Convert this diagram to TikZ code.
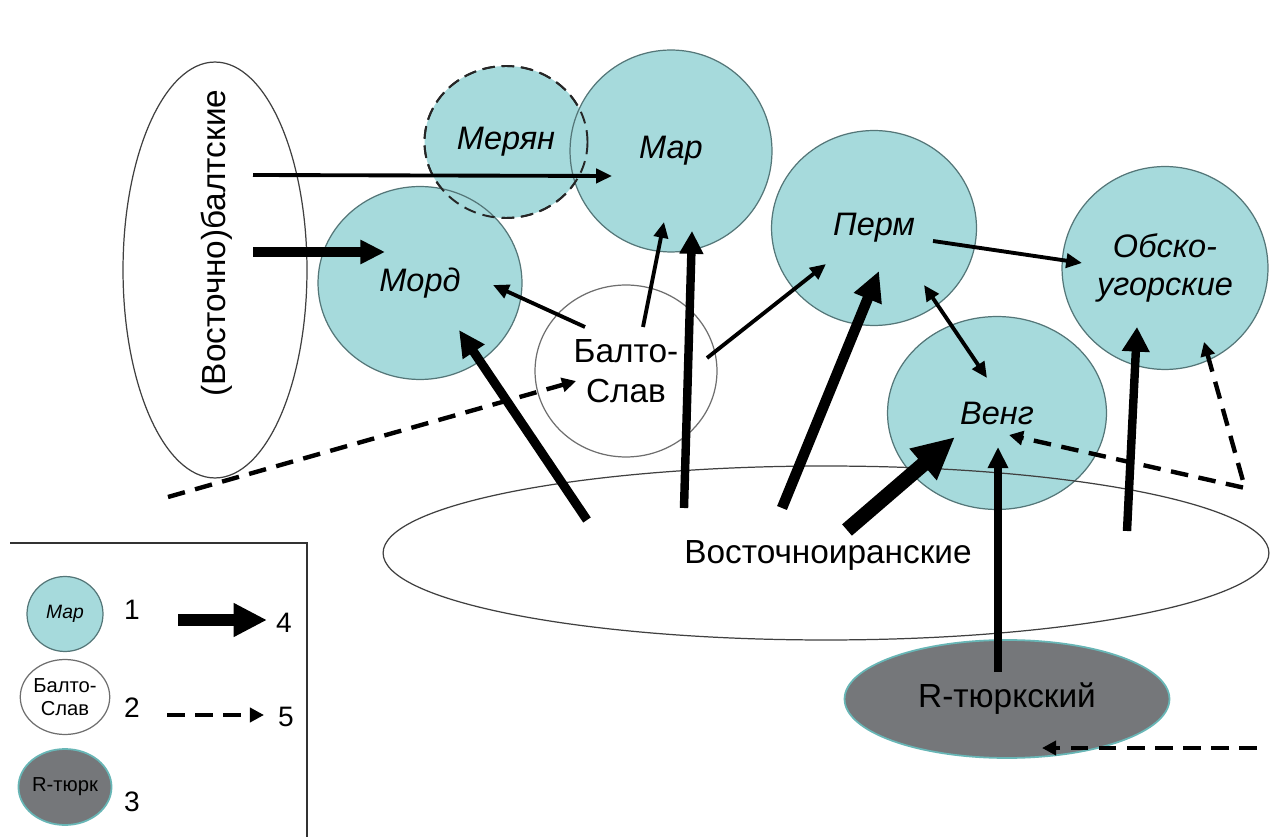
\documentclass[tikz,border=0pt]{standalone}
\usepackage{fontspec}
\setmainfont{Liberation Sans}
\usetikzlibrary{arrows.meta,shapes.geometric}
\definecolor{teal1}{RGB}{166,218,220}
\definecolor{tealb}{RGB}{84,118,120}
\definecolor{rgray}{RGB}{117,119,122}
\definecolor{rbord}{RGB}{104,182,182}
\definecolor{lgray}{RGB}{110,110,110}
\begin{document}
\begin{tikzpicture}[x=0.02cm,y=-0.02cm,
  lang/.style={ellipse, fill=teal1, draw=tealb, line width=0.7pt, inner sep=0pt, align=center,
    font=\fontsize{18.5}{22}\selectfont\itshape},
  plain/.style={ellipse, draw=lgray, line width=0.7pt, inner sep=0pt, align=center,
    font=\fontsize{19}{23}\selectfont},
  turk/.style={ellipse, fill=rgray, draw=rbord, line width=1pt, inner sep=0pt, align=center,
    font=\fontsize{19}{23}\selectfont},
  num/.style={font=\fontsize{16}{18}\selectfont, inner sep=0pt},
  thinarr/.style={line width=2.2pt, -{Triangle[length=9pt,width=8pt]}},
  dasharr/.style={line width=2.5pt, dash pattern=on 10pt off 6pt, -{Triangle[length=8pt,width=8pt]}}
]
\useasboundingbox (0,0) rectangle (1271,837);

% language areas
\node[lang, draw=black!85, line width=1.1pt, dash pattern=on 7pt off 4pt, minimum width=3.26cm, minimum height=3.04cm] (mer) at (506,142) {Мерян};
\node[lang, minimum width=4.04cm, minimum height=4.04cm] (mar) at (671,151) {Мар};
\node[lang, minimum width=4.08cm, minimum height=3.86cm] (mord) at (420,283) {Морд};
\draw[black!85, line width=1.1pt, dash pattern=on 7pt off 4pt] (mer.center) ellipse [x radius=81.5, y radius=76];
\node[plain, minimum width=3.64cm, minimum height=3.44cm] (bs) at (626,371) {Балто-\\Слав};
\node[lang, minimum width=4.1cm, minimum height=3.9cm] (perm) at (874,228) {Перм};
\node[lang, minimum width=4.12cm, minimum height=4.06cm] (ob) at (1165,268) {Обско-\\угорские};
\node[lang, minimum width=4.38cm, minimum height=3.86cm] (veng) at (997,413) {Венг};
\node[plain, draw=black!75, minimum width=3.68cm, minimum height=8.32cm] (balt) at (215,270) {};
\node[font=\fontsize{19}{23}\selectfont, rotate=90] (baltlbl) at (217,243) {(Восточно)балтские};
\node[plain, draw=black!75, minimum width=17.72cm, minimum height=3.48cm] (vi) at (826,553) {};
\node[font=\fontsize{19}{23}\selectfont] (vilbl) at (828,555) {Восточноиранские};
\node[turk, minimum width=6.5cm, minimum height=2.36cm] (rt) at (1007,699) {R-тюркский};

% endpoints
\coordinate (baltA1) at (253,175);
\coordinate (marT1) at (612,176);
\coordinate (baltA2) at (253,252);
\coordinate (mordT1) at (385,252);
\coordinate (bsS1) at (585,327);
\coordinate (mordT2) at (493,285);
\coordinate (bsS2) at (643,327);
\coordinate (marT2) at (664,222);
\coordinate (bsS3) at (707,358);
\coordinate (permT1) at (826,264);
\coordinate (dashS) at (168,497);
\coordinate (bsT) at (576,381);
\coordinate (viS1) at (587,520);
\coordinate (mordT3) at (459,330);
\coordinate (viS2) at (684,508);
\coordinate (marT3) at (692,231);
\coordinate (viS3) at (782,508);
\coordinate (permT2) at (879,271);
\coordinate (viS4) at (847,530);
\coordinate (vengT1) at (955,437);
\coordinate (rtS) at (998,672);
\coordinate (vengT2) at (998,447);
\coordinate (viS5) at (1127,531);
\coordinate (obT1) at (1137,327);
\coordinate (permS) at (933,241);
\coordinate (obT2) at (1082,263);
\coordinate (permD) at (924,285);
\coordinate (vengD) at (987,378);
\coordinate (obT3) at (1204,342);
\coordinate (corner) at (1245,488);
\coordinate (vengT3) at (1009,435);
\coordinate (rtDashS) at (1257,748);
\coordinate (rtT) at (1042,748);

% arrows
\draw[thinarr] (baltA1) -- (marT1);
\draw[line width=5.7pt, -{Triangle[length=14pt,width=13pt]}] (baltA2) -- (mordT1);
\draw[thinarr] (bsS1) -- (mordT2);
\draw[thinarr] (bsS2) -- (marT2);
\draw[thinarr] (bsS3) -- (permT1);
\draw[dasharr] (dashS) -- (bsT);
\draw[line width=5.2pt, -{Triangle[length=15pt,width=14pt]}] (viS1) -- (mordT3);
\draw[line width=4.8pt, -{Triangle[length=13pt,width=13pt]}] (viS2) -- (marT3);
\draw[line width=6pt, -{Triangle[length=17pt,width=16pt]}] (viS3) -- (permT2);
\draw[line width=8.5pt, -{Triangle[length=24pt,width=22pt]}] (viS4) -- (vengT1);
\draw[line width=4.8pt, -{Triangle[length=12pt,width=11pt]}] (rtS) -- (vengT2);
\draw[line width=4.8pt, -{Triangle[length=14pt,width=15pt]}] (viS5) -- (obT1);
\draw[thinarr] (permS) -- (obT2);
\draw[line width=2.2pt, {Triangle[length=9pt,width=8pt]}-{Triangle[length=9pt,width=8pt]}] (permD) -- (vengD);
\draw[line width=2.5pt, dash pattern=on 10pt off 6pt, {Triangle[length=8pt,width=8pt]}-{Triangle[length=8pt,width=8pt]}] (obT3) -- (corner) -- (vengT3);
\draw[dasharr] (rtDashS) -- (rtT);

% legend
\coordinate (lgA) at (10,543);
\coordinate (lgB) at (307,543);
\coordinate (lgC) at (307,837);
\draw[black!80, line width=0.8pt] (lgA) -- (lgB) -- (lgC);
\node[lang, minimum width=1.52cm, minimum height=1.5cm, font=\fontsize{11}{13}\selectfont\itshape] (lg1) at (65,614) {Мар};
\node[plain, minimum width=1.52cm, minimum height=1.5cm, font=\fontsize{11.5}{13}\selectfont] (lg2) at (65,697) {Балто-\\Слав};
\node[turk, minimum width=1.52cm, minimum height=1.52cm, font=\fontsize{11.5}{13}\selectfont] (lg3) at (65,787) {R-тюрк};
\node[num] (n1) at (132,610) {1};
\node[num] (n2) at (132,708) {2};
\node[num] (n3) at (132,802) {3};
\node[num] (n4) at (284,623) {4};
\node[num] (n5) at (286,717) {5};
\coordinate (legArrS) at (178,620);
\coordinate (legArrT) at (267,620);
\coordinate (legDashS) at (167,715);
\coordinate (legDashT) at (264,715);
\draw[line width=6.5pt, -{Triangle[length=19pt,width=18pt]}] (legArrS) -- (legArrT);
\draw[dasharr] (legDashS) -- (legDashT);
\end{tikzpicture}
\end{document}
